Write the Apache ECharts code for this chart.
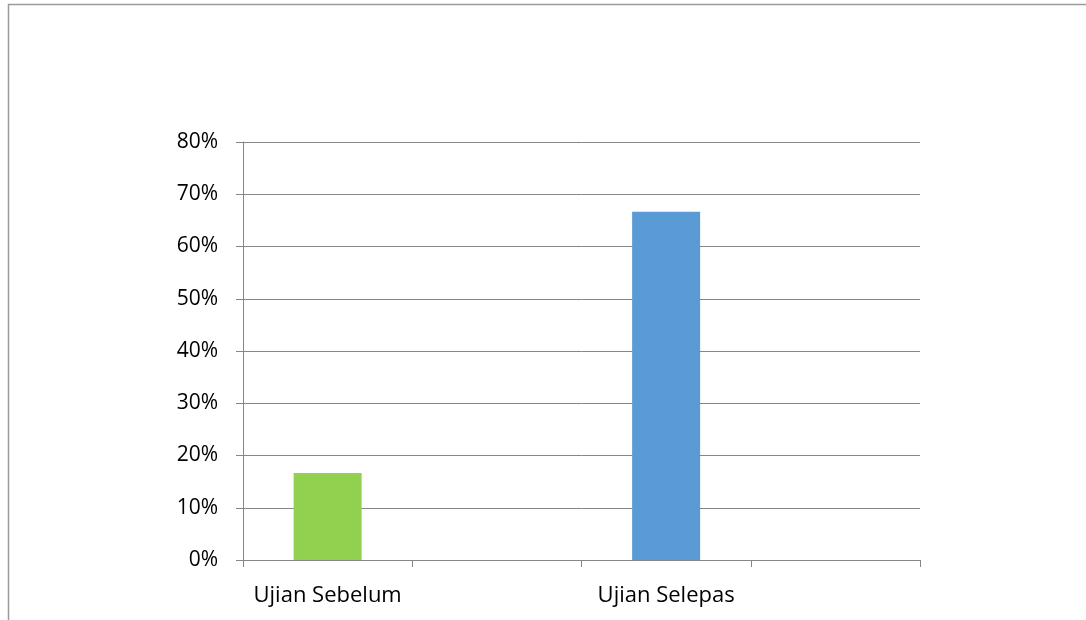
<!DOCTYPE html>
<html>
<head>
<meta charset="utf-8">
<script src="https://cdn.jsdelivr.net/npm/echarts@6/dist/echarts.min.js"></script>
<style>
  html, body { margin: 0; padding: 0; background: #fff; }
  #chart { width: 1086px; height: 620px; }
</style>
</head>
<body>
<div id="chart"></div>
<script>
// data
var categories = ["Ujian Sebelum", "Ujian Selepas"];
var values = [16.67, 66.67];
var barColors = ["#92D050", "#5B9BD5"];
var yTicks = [0, 10, 20, 30, 40, 50, 60, 70, 80];

// excel left an empty slot after each category, so interleave blanks
var axisData = [];
var seriesData = [];
for (var i = 0; i < categories.length; i++) {
  axisData.push(categories[i]);
  axisData.push("");
  seriesData.push({ value: values[i], itemStyle: { color: barColors[i] } });
  seriesData.push(null);
}

var chart = echarts.init(document.getElementById("chart"));
var option = {
  animation: false,
  textStyle: { fontFamily: "Open Sans" },
  graphic: [
    {
      type: "rect",
      shape: { x: 8.5, y: 4.5, width: 1200, height: 800 },
      style: { fill: "none", stroke: "#9a9a9a", lineWidth: 1.5 },
    },
  ],
  grid: {
    left: 243,
    right: 166,
    top: 142,
    bottom: 60,
  },
  xAxis: {
    type: "category",
    data: axisData,
    axisLine: { lineStyle: { color: "#868686", width: 1 } },
    axisTick: { show: true, length: 7, alignWithLabel: false, lineStyle: { color: "#868686" } },
    axisLabel: {
      interval: 0,
      color: "#000",
      fontSize: 22,
      margin: 25,
    },
    splitLine: { show: false },
  },
  yAxis: {
    type: "value",
    min: yTicks[0],
    max: yTicks[yTicks.length - 1],
    interval: 10,
    axisLine: { show: true, lineStyle: { color: "#868686", width: 1 } },
    axisTick: { show: true, length: 7, lineStyle: { color: "#868686" } },
    axisLabel: {
      color: "#000",
      fontSize: 21,
      margin: 25,
      formatter: "{value}%",
    },
    splitLine: { show: true, lineStyle: { color: "#868686", width: 1 } },
  },
  series: [
    {
      type: "bar",
      data: seriesData,
      barWidth: 68,
      barGap: "0%",
    },
  ],
};
chart.setOption(option);
</script>
</body>
</html>
